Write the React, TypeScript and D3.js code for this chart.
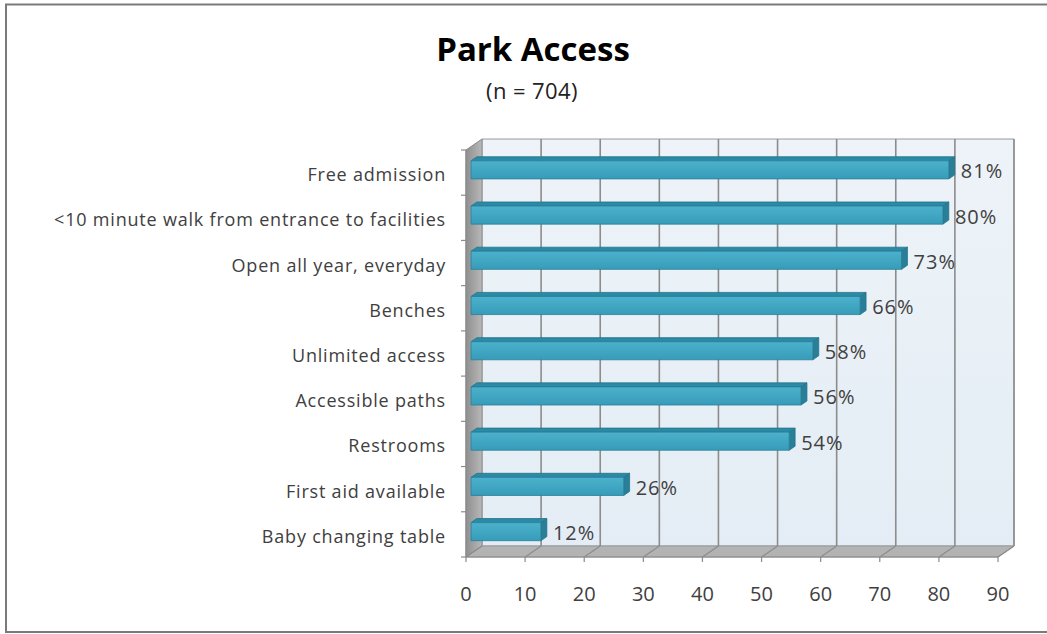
import React from "react";
import * as d3 from "d3";

const categories = [
  "Free admission",
  "<10 minute walk from entrance to facilities",
  "Open all year, everyday",
  "Benches",
  "Unlimited access",
  "Accessible paths",
  "Restrooms",
  "First aid available",
  "Baby changing table",
];
const values = [81, 80, 73, 66, 58, 56, 54, 26, 12];
const xTicks = [0, 10, 20, 30, 40, 50, 60, 70, 80, 90];
const title = "Park Access";
const subtitle = "(n = 704)";

const W = 1047;
const H = 634;
const DX = 16;
const DY = -11;
const FONT = "'Open Sans', 'Liberation Sans', sans-serif";

export default function App() {
  const x = d3.scaleLinear().domain([0, 90]).range([466, 998]);
  const y = d3.scaleBand<string>().domain(categories).range([150, 557]).paddingInner(0.6).paddingOuter(0.3);
  const yb = d3.scaleBand<string>().domain(categories).range([150, 557]);
  const P = (px: number, py: number, d: number): [number, number] => [px + DX * d, py + DY * d];
  const poly = (pts: [number, number][]) => pts.map((p) => p.join(",")).join(" ");

  const x0 = x(0);
  const x1 = x(90);
  const yTop = 150;
  const yBot = 557;

  const dF = 0.25;
  const dB = 0.62;

  return (
    <svg width={W} height={H} style={{ position: "fixed", left: 0, top: 0, background: "#fff" }}>
      <defs>
        <linearGradient id="wallBack" x1="0" y1="0" x2="0" y2="1">
          <stop offset="0" stopColor="#edf3f8" />
          <stop offset="1" stopColor="#e4edf5" />
        </linearGradient>
        <linearGradient id="wallLeft" x1="0" y1="0" x2="1" y2="0">
          <stop offset="0" stopColor="#8f8f8f" />
          <stop offset="1" stopColor="#b8b8b8" />
        </linearGradient>
        <linearGradient id="barFront" x1="0" y1="0" x2="0" y2="1">
          <stop offset="0" stopColor="#4cb1cc" />
          <stop offset="1" stopColor="#379cb9" />
        </linearGradient>
      </defs>
      <rect x={6} y={4.5} width={W + 10} height={627.5} fill="#fff" stroke="#7a7a7a" strokeWidth={2} />
      <text x={533} y={61} textAnchor="middle" fontFamily={FONT} fontWeight="bold" fontSize={33} fill="#000">
        {title}
      </text>
      <text x={532} y={99} textAnchor="middle" fontFamily={FONT} fontSize={22} letterSpacing={0.4} fill="#222">
        {subtitle}
      </text>

      {/* back wall */}
      <polygon
        points={poly([P(x0, yTop, 1), P(x1, yTop, 1), P(x1, yBot, 1), P(x0, yBot, 1)])}
        fill="url(#wallBack)"
        stroke="#9a9a9a"
        strokeWidth={1}
      />
      {/* left wall */}
      <polygon
        points={poly([P(x0, yTop, 0), P(x0, yTop, 1), P(x0, yBot, 1), P(x0, yBot, 0)])}
        fill="url(#wallLeft)"
        stroke="#8a8a8a"
        strokeWidth={1}
      />
      {/* floor */}
      <polygon
        points={poly([P(x0, yBot, 0), P(x1, yBot, 0), P(x1, yBot, 1), P(x0, yBot, 1)])}
        fill="#b3b3b3"
        stroke="#999"
        strokeWidth={1}
      />
      {/* gridlines */}
      {xTicks.map((t) => {
        const [bx, by] = P(x(t), yBot, 1);
        const [tx, ty] = P(x(t), yTop, 1);
        const [fx, fy] = P(x(t), yBot, 0);
        return (
          <g key={"g" + t}>
            {t > 0 && <line x1={bx} y1={by} x2={tx} y2={ty} stroke="#8c8c8c" strokeWidth={1.6} />}
            <line x1={fx} y1={fy} x2={bx} y2={by} stroke="#8c8c8c" strokeWidth={1.2} />
            <line x1={fx} y1={fy} x2={fx} y2={fy + 5} stroke="#8c8c8c" strokeWidth={1.2} />
            <text x={fx} y={601} textAnchor="middle" fontFamily={FONT} fontSize={20} fill="#404040">
              {t}
            </text>
          </g>
        );
      })}
      {/* axes lines */}
      <line x1={x0} y1={yTop} x2={x0} y2={yBot} stroke="#8c8c8c" strokeWidth={1.2} />
      <line x1={x0} y1={yBot} x2={x1} y2={yBot} stroke="#8c8c8c" strokeWidth={1.2} />
      {categories.map((c, i) => (
        <line key={"ct" + i} x1={x0 - 5} y1={yb(c)!} x2={x0} y2={yb(c)!} stroke="#8c8c8c" strokeWidth={1.2} />
      ))}
      <line x1={x0 - 5} y1={yBot} x2={x0} y2={yBot} stroke="#8c8c8c" strokeWidth={1.2} />

      {/* bars */}
      {categories.map((c, i) => {
        const v = values[i];
        const yt = y(c)!;
        const yb2 = yt + y.bandwidth();
        const xs = x(0) + 1;
        const xe = x(v);
        const front = [P(xs, yt, dF), P(xe, yt, dF), P(xe, yb2, dF), P(xs, yb2, dF)];
        const top = [P(xs, yt, dF), P(xs, yt, dB), P(xe, yt, dB), P(xe, yt, dF)];
        const side = [P(xe, yt, dF), P(xe, yt, dB), P(xe, yb2, dB), P(xe, yb2, dF)];
        const [lx, ly] = P(xe, (yt + yb2) / 2, dF);
        return (
          <g key={"b" + i}>
            <polygon points={poly(top)} fill="#2b8aa6" stroke="#24738b" strokeWidth={0.8} />
            <polygon points={poly(side)} fill="#2a7f98" stroke="#24738b" strokeWidth={0.8} />
            <polygon points={poly(front)} fill="url(#barFront)" stroke="#2a7f98" strokeWidth={0.8} />
            <text
              x={lx + 12}
              y={ly + 1}
              dominantBaseline="central"
              fontFamily={FONT}
              fontSize={20}
              letterSpacing={1}
              fill="#404040"
            >
              {v}%
            </text>
          </g>
        );
      })}

      {/* category labels */}
      {categories.map((c, i) => (
        <text
          key={"cl" + i}
          x={446}
          y={yb(c)! + yb.bandwidth() / 2 + 1.5}
          textAnchor="end"
          dominantBaseline="central"
          fontFamily={FONT}
          fontSize={18}
          letterSpacing={0.8}
          fill="#404040"
        >
          {c}
        </text>
      ))}
    </svg>
  );
}
